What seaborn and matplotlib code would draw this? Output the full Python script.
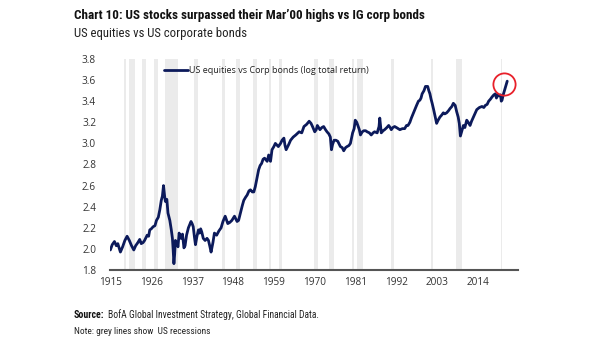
import glob
import matplotlib
matplotlib.use("Agg")
import matplotlib.pyplot as plt
from matplotlib import font_manager
from matplotlib.font_manager import FontProperties
import seaborn as sns
import pandas as pd

# ---------------- data ----------------
years = [1915.0, 1915.5, 1916.1, 1916.6, 1917.0, 1917.7, 1918.3, 1918.9, 1919.5, 1920.1,
         1920.7, 1921.3, 1921.8, 1922.4, 1922.9, 1923.3, 1923.8, 1924.2, 1924.9, 1925.3,
         1925.6, 1926.0, 1926.5, 1927.0, 1927.4, 1927.9, 1928.3, 1928.7, 1929.0, 1929.3,
         1929.6, 1929.8, 1930.2, 1930.5, 1931.0, 1931.4, 1931.7, 1931.9, 1932.1, 1932.3,
         1932.5, 1932.8, 1933.2, 1933.5, 1934.0, 1934.4, 1934.8, 1935.1, 1935.5, 1936.0,
         1936.7, 1937.0, 1937.3, 1937.6, 1937.9, 1938.3, 1938.7, 1939.0, 1939.3, 1939.6,
         1940.0, 1940.5, 1941.0, 1941.4, 1941.8, 1942.1, 1942.6, 1943.0, 1943.6, 1944.2,
         1944.8, 1945.3, 1945.9, 1946.6, 1947.1, 1947.7, 1948.4, 1949.1, 1949.5, 1950.0,
         1950.5, 1950.9, 1951.4, 1951.8, 1952.3, 1952.7, 1953.2, 1953.6, 1954.0, 1954.4,
         1954.9, 1955.3, 1955.7, 1956.1, 1956.5, 1957.2, 1957.6, 1958.1, 1958.5, 1959.0,
         1959.4, 1960.2, 1960.8, 1961.2, 1961.7, 1962.0, 1962.3, 1963.0, 1963.5, 1964.2,
         1964.9, 1965.8, 1966.5, 1967.1, 1967.8, 1968.5, 1969.0, 1969.4, 1970.0, 1970.4,
         1970.7, 1971.4, 1971.9, 1972.4, 1972.9, 1973.3, 1973.8, 1974.2, 1974.5, 1974.8,
         1975.2, 1975.7, 1976.2, 1976.9, 1977.4, 1977.8, 1978.3, 1978.7, 1979.2, 1979.6,
         1980.2, 1980.6, 1980.9, 1981.3, 1981.6, 1982.0, 1982.3, 1982.8, 1983.2, 1983.7,
         1984.1, 1984.7, 1985.2, 1985.7, 1986.1, 1986.8, 1987.3, 1987.5, 1987.9, 1988.4,
         1988.8, 1989.4, 1989.9, 1990.3, 1990.6, 1991.0, 1991.5, 1992.0, 1992.9, 1993.6,
         1994.2, 1994.7, 1995.1, 1995.6, 1996.0, 1996.7, 1997.4, 1997.9, 1998.3, 1998.6,
         1998.9, 1999.4, 1999.8, 2000.4, 2000.7, 2001.0, 2001.3, 2001.6, 2002.0, 2002.3,
         2002.8, 2003.2, 2003.7, 2004.2, 2004.6, 2005.0, 2005.5, 2006.0, 2006.4, 2006.9,
         2007.3, 2007.8, 2008.2, 2008.6, 2008.9, 2009.2, 2009.6, 2010.0, 2010.4, 2010.9,
         2011.3, 2011.8, 2012.2, 2012.7, 2013.2, 2013.6, 2014.3, 2015.0, 2015.5, 2015.9,
         2016.4, 2016.8, 2017.3, 2017.7, 2018.2, 2018.6, 2018.9, 2019.2, 2019.5, 2020.0,
         2020.2, 2020.4, 2020.8, 2021.3, 2021.8]
equity_vs_bonds = [1.99, 2.04, 2.07, 2.03, 2.05, 1.97, 2.02, 2.08, 2.12, 2.08,
                   2.03, 1.99, 2.03, 2.06, 2.09, 2.05, 2.06, 2.08, 2.13, 2.12,
                   2.18, 2.19, 2.21, 2.22, 2.27, 2.30, 2.37, 2.46, 2.50, 2.60,
                   2.50, 2.45, 2.47, 2.34, 2.27, 2.18, 2.10, 1.99, 1.86, 1.95,
                   2.08, 2.06, 2.02, 2.15, 2.10, 2.14, 2.01, 2.03, 2.13, 2.20,
                   2.26, 2.24, 2.21, 2.12, 2.04, 2.12, 2.18, 2.15, 2.19, 2.16,
                   2.10, 2.08, 2.10, 2.08, 2.02, 1.97, 2.06, 2.15, 2.13, 2.17,
                   2.20, 2.26, 2.31, 2.24, 2.25, 2.27, 2.31, 2.26, 2.27, 2.34,
                   2.41, 2.46, 2.49, 2.51, 2.55, 2.56, 2.54, 2.54, 2.59, 2.66,
                   2.75, 2.79, 2.81, 2.85, 2.86, 2.83, 2.89, 2.83, 2.94, 2.97,
                   3.00, 2.97, 3.00, 3.03, 3.05, 2.98, 2.94, 2.99, 3.03, 3.06,
                   3.08, 3.11, 3.10, 3.16, 3.18, 3.21, 3.19, 3.16, 3.11, 3.13,
                   3.17, 3.13, 3.15, 3.16, 3.13, 3.11, 3.09, 3.06, 2.94, 2.99,
                   3.03, 3.03, 3.02, 2.97, 2.96, 2.93, 2.96, 2.97, 2.98, 3.00,
                   3.10, 3.14, 3.22, 3.20, 3.17, 3.13, 3.08, 3.11, 3.12, 3.12,
                   3.11, 3.10, 3.08, 3.10, 3.11, 3.10, 3.16, 3.24, 3.10, 3.12,
                   3.13, 3.15, 3.17, 3.15, 3.13, 3.15, 3.16, 3.15, 3.13, 3.14,
                   3.14, 3.17, 3.17, 3.20, 3.24, 3.30, 3.36, 3.40, 3.41, 3.43,
                   3.47, 3.50, 3.54, 3.54, 3.50, 3.47, 3.42, 3.38, 3.32, 3.27,
                   3.19, 3.22, 3.25, 3.27, 3.29, 3.28, 3.29, 3.31, 3.33, 3.35,
                   3.38, 3.36, 3.30, 3.25, 3.19, 3.07, 3.12, 3.17, 3.15, 3.22,
                   3.20, 3.17, 3.21, 3.25, 3.29, 3.32, 3.34, 3.35, 3.34, 3.36,
                   3.37, 3.40, 3.42, 3.44, 3.46, 3.47, 3.43, 3.46, 3.45, 3.46,
                   3.40, 3.41, 3.47, 3.53, 3.59]

# US recessions (NBER), decimal years
recession_start = [1918.6, 1920.0, 1923.4, 1926.8, 1929.6, 1937.4, 1945.1, 1948.9, 1953.5,
                   1957.6, 1960.3, 1969.9, 1973.9, 1980.0, 1981.5, 1990.5, 2001.2, 2007.9, 2020.1]
recession_end = [1919.2, 1921.5, 1924.5, 1927.9, 1933.2, 1938.5, 1945.8, 1949.8, 1954.4,
                 1958.3, 1961.1, 1970.9, 1975.2, 1980.5, 1982.9, 1991.2, 2001.9, 2009.5, 2020.3]

x_ticks = [1915, 1926, 1937, 1948, 1959, 1970, 1981, 1992, 2003, 2014]
y_ticks = [1.8, 2.0, 2.2, 2.4, 2.6, 2.8, 3.0, 3.2, 3.4, 3.6, 3.8]

highlight_year = [2020.8]
highlight_value = [3.56]

series_label = "US equities vs Corp bonds (log total return)"
title = "Chart 10: US stocks surpassed their Mar\u201900 highs vs IG corp bonds"
subtitle = "US equities vs US corporate bonds"
source_bold = "Source:"
source_text = "BofA Global Investment Strategy, Global Financial Data."
note_text = "Note: grey lines show  US recessions"

# ---------------- style ----------------
sns.set_theme(style="white")


def find_narrow(bold):
    files = []
    for pat in ["/usr/share/fonts/**/*.ttf", "/usr/local/share/fonts/**/*.ttf",
                "/usr/share/fonts/**/*.otf"]:
        files += glob.glob(pat, recursive=True)
    files += [f.fname for f in font_manager.fontManager.ttflist]
    want = []
    for f in files:
        low = f.lower().split("/")[-1]
        if ("narrow" in low or "condensed" in low) and "italic" not in low and "oblique" not in low:
            isbold = "bold" in low
            if isbold == bold and "semi" not in low and "extra" not in low and "light" not in low:
                want.append(f)
    pref = ["liberationsansnarrow", "robotocondensed", "opensanscondensed",
            "notosans", "dejavusanscondensed"]
    for p in pref:
        for f in want:
            if p in f.lower().replace("-", "").replace("_", ""):
                return f
    return want[0] if want else None


nb = find_narrow(True)
nr = find_narrow(False)
fp_bold = FontProperties(fname=nb) if nb else FontProperties(family="Liberation Sans", weight="bold")
fp_reg = FontProperties(fname=nr) if nr else FontProperties(family="Liberation Sans")

body = "Open Sans"
plt.rcParams["font.family"] = [body, "DejaVu Sans"]

navy = "#0c1a5b"
df = pd.DataFrame({"year": years, "value": equity_vs_bonds})

fig = plt.figure(figsize=(6.05, 3.41), dpi=100)
ax = fig.add_axes([110 / 605, 1 - 270 / 341, 408 / 605, 211 / 341])

for s, e in zip(recession_start, recession_end):
    ax.axvspan(s, e, color="#ebebeb", lw=0, zorder=0)

sns.lineplot(data=df, x="year", y="value", ax=ax, color=navy, lw=2.0,
             label=series_label, zorder=3)

ax.plot(highlight_year, highlight_value, marker="o", ms=16, mfc="none",
        mec="#e8202a", mew=1.3, ls="none", zorder=4)

ax.set_xlim(1914.9, 2024.7)
ax.set_ylim(1.8, 3.8)
ax.set_xticks(x_ticks)
ax.set_xticklabels([str(t) for t in x_ticks])
ax.set_yticks(y_ticks)
ax.set_yticklabels([f"{t:.1f}" for t in y_ticks])
ax.tick_params(axis="both", length=0, labelsize=7.2, colors="#333333")
ax.tick_params(axis="y", pad=10)
ax.tick_params(axis="x", pad=5)
ax.set_xlabel("")
ax.set_ylabel("")
for side in ["left", "right", "top"]:
    ax.spines[side].set_visible(False)
ax.spines["bottom"].set_color("#555555")
ax.spines["bottom"].set_linewidth(1.5)
ax.grid(False)

leg = ax.legend(loc="upper left", bbox_to_anchor=(0.115, 1.0), frameon=False,
                fontsize=6.5, handlelength=2.6, handletextpad=0.15, borderaxespad=0.4)
for t in leg.get_texts():
    t.set_color("#222222")

renderer = fig.canvas.get_renderer()


def fit_text(x_px, y_px, s, fp, size, target_w, color):
    p = fp.copy()
    p.set_size(size)
    t = fig.text(x_px / 605, 1 - y_px / 341, s, fontproperties=p, color=color, va="baseline")
    w = t.get_window_extent(renderer).width
    if w > 0:
        p2 = fp.copy()
        p2.set_size(size * target_w / w)
        t.set_fontproperties(p2)
    return t


fit_text(74, 19.5, title, fp_bold, 11.5, 353, "#111111")
fit_text(74, 37.5, subtitle, fp_reg, 10.5, 174, "#222222")
fit_text(74, 317.5, source_bold, fp_bold, 7.5, 30, "#111111")
fit_text(107.5, 317.5, source_text, fp_reg, 7.5, 209, "#222222")
fit_text(74, 334, note_text, fp_reg, 7.5, 135, "#222222")

fig.savefig("out.png", dpi=100)
